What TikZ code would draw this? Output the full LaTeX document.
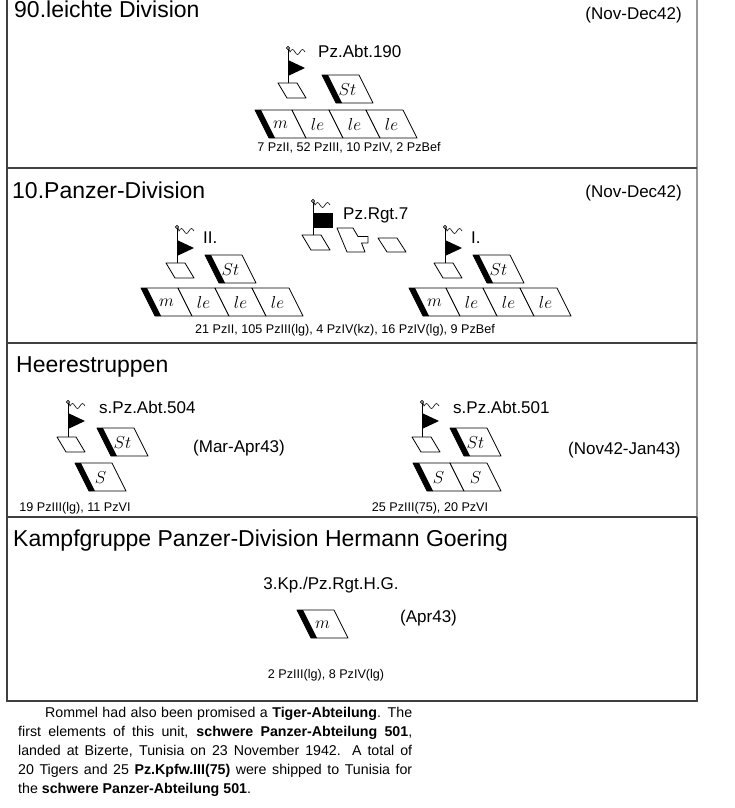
\documentclass[tikz,border=0pt]{standalone}
\usepackage{fontspec}
\setmainfont{Liberation Sans}
\newcount\symn
\tikzset{
  frame/.style={draw=black!75, line width=1.2pt},
  lightframe/.style={draw=black!40, line width=1.2pt},
  sym/.style={draw, line width=0.8pt, fill=white, line join=round},
  cl/.style={inner sep=0pt, font=\fontsize{16.5}{16.5}\selectfont},
  title/.style={anchor=base west, inner sep=0pt, font=\fontsize{23}{23}\selectfont},
  lbl/.style={inner sep=0pt, font=\fontsize{17}{17}\selectfont},
  strength/.style={inner sep=0pt, font=\fontsize{12.6}{13}\selectfont},
  para/.style={anchor=base west, inner sep=0pt, font=\fontsize{14.2}{17}\selectfont},
  pole/.style={line width=0.8pt},
}
% big parallelogram cell: x, y (top-left), label
\newcommand\bcell[3]{%
  \draw[sym] (#1,#2) -- (#1+37,#2) -- (#1+51,#2+28) -- (#1+14,#2+28) -- cycle;
  \global\advance\symn by 1
  \node[cl] (cell\the\symn) at (#1+25.5,#2+14.5) {$#3$};
}
% thick band on left edge of a cell
\newcommand\band[2]{\fill (#1,#2) -- (#1+6,#2) -- (#1+20,#2+28) -- (#1+14,#2+28) -- cycle;}
% small HQ parallelogram
\newcommand\hq[2]{\draw[sym] (#1,#2) -- (#1+19,#2) -- (#1+28,#2+15) -- (#1+9,#2+15) -- cycle;}
% wavy line at top of pole
\newcommand\wave[2]{\draw[line width=0.6pt] (#1+1,#2+1) -- (#1+2,#2+4) sin (#1+4.5,#2+1.5) cos (#1+7,#2+4) sin (#1+9.5,#2+6.5) cos (#1+12,#2+4) sin (#1+14.5,#2+1.5) cos (#1+17,#2+4);}
% pennant flag: x, top, triangle top, bottom
\newcommand\pennant[4]{%
  \draw[pole] (#1,#2) -- (#1,#4);
  \fill (#1,#3) -- (#1+17,#3+8) -- (#1,#3+16) -- cycle;
  \draw[line width=0.6pt, fill=white] (#1,#2) circle (1.6);
  \wave{#1}{#2}
}
\begin{document}
\begin{tikzpicture}[x=1pt,y=-1pt]
\useasboundingbox (0,0) rectangle (734,808);
\fill[white] (0,0) rectangle (734,808);

% frames
\draw[frame] (7,0) -- (7,701) -- (697,701) -- (697,517);
\draw[lightframe] (697,517) -- (697,0);
\draw[frame] (7,168) -- (697,168);
\draw[frame] (7,343) -- (697,343);
\draw[frame] (7,517) -- (697,517);

% ---------- 90. leichte Division
\node[title] (t1) at (14,18) {90.leichte Division};
\node[lbl, anchor=east] (d1) at (682,15) {(Nov-Dec42)};
\node[lbl, anchor=west] (u1) at (318,51) {Pz.Abt.190};
\pennant{288}{48}{60}{83}
\hq{278}{83}
\bcell{322}{75}{St}\band{322}{75}
\bcell{255}{110}{m}\band{255}{110}
\bcell{292}{110}{le}
\bcell{329}{110}{le}
\bcell{366}{110}{le}
\node[strength] (s1) at (349,148) {7 PzII, 52 PzIII, 10 PzIV, 2 PzBef};

% ---------- 10. Panzer-Division
\node[title] (t2) at (12,198) {10.Panzer-Division};
\node[lbl, anchor=east] (d2) at (682,193) {(Nov-Dec42)};
% Pz.Rgt.7
\draw[pole] (313,201) -- (313,235);
\fill (313,213) rectangle (333,228);
\draw[line width=0.6pt, fill=white] (313,201) circle (1.6);
\wave{313}{201}
\node[lbl, anchor=west] (u2) at (343,215) {Pz.Rgt.7};
\hq{302}{235}
\draw[sym] (337,228) -- (353,228) -- (358,236.5) -- (368,236.5) -- (368,243) -- (361.5,243) -- (365,252) -- (347,252) -- cycle;
\draw[sym] (378,238) -- (397,238) -- (406,252) -- (387,252) -- cycle;
% II.
\pennant{177}{227}{240}{263}
\node[lbl, anchor=west] (u3) at (203,238) {II.};
\hq{166}{263}
\bcell{205}{255}{St}\band{205}{255}
\bcell{141}{288}{m}\band{141}{288}
\bcell{178}{288}{le}
\bcell{215}{288}{le}
\bcell{252}{288}{le}
% I.
\pennant{445}{227}{240}{263}
\node[lbl, anchor=west] (u4) at (471,238) {I.};
\hq{434}{263}
\bcell{473}{255}{St}\band{473}{255}
\bcell{409}{288}{m}\band{409}{288}
\bcell{446}{288}{le}
\bcell{483}{288}{le}
\bcell{520}{288}{le}
\node[strength] (s2) at (345,330) {21 PzII, 105 PzIII(lg), 4 PzIV(kz), 16 PzIV(lg), 9 PzBef};

% ---------- Heerestruppen
\node[title] (t3) at (16,372) {Heerestruppen};
% s.Pz.Abt.504
\pennant{68}{402}{413}{437}
\node[lbl, anchor=west] (u5) at (99,407) {s.Pz.Abt.504};
\hq{57}{437}
\bcell{97}{428}{St}\band{97}{428}
\bcell{75}{463}{S}\band{75}{463}
\node[lbl, anchor=west] (d3) at (193,448) {(Mar-Apr43)};
\node[strength] (s3) at (75,508) {19 PzIII(lg), 11 PzVI};
% s.Pz.Abt.501
\pennant{422}{402}{413}{437}
\node[lbl, anchor=west] (u6) at (453,407) {s.Pz.Abt.501};
\hq{412}{437}
\bcell{450}{428}{St}\band{450}{428}
\bcell{413}{463}{S}\band{413}{463}
\bcell{450}{463}{S}
\node[lbl, anchor=west] (d4) at (568,450) {(Nov42-Jan43)};
\node[strength] (s4) at (430,508) {25 PzIII(75), 20 PzVI};

% ---------- Kampfgruppe HG
\node[title] (t4) at (13,546) {Kampfgruppe Panzer-Division Hermann Goering};
\node[lbl] (u7) at (331,585) {3.Kp./Pz.Rgt.H.G.};
\bcell{297}{610}{m}\band{297}{610}
\node[lbl, anchor=west] (d5) at (400,618) {(Apr43)};
\node[strength] (s5) at (326,675) {2 PzIII(lg), 8 PzIV(lg)};

% ---------- paragraph
\node[para] (p1) at (45,717) {\makebox[367pt][s]{Rommel had also been promised a \textbf{Tiger-Abteilung}. The}};
\node[para] (p2) at (18,736) {\makebox[394pt][s]{first elements of this unit, \textbf{schwere Panzer-Abteilung 501},}};
\node[para] (p3) at (18,755) {\makebox[394pt][s]{landed at Bizerte, Tunisia on 23 November 1942. A total of}};
\node[para] (p4) at (18,774) {\makebox[394pt][s]{20 Tigers and 25 \textbf{Pz.Kpfw.III(75)} were shipped to Tunisia for}};
\node[para] (p5) at (18,793) {the \textbf{schwere Panzer-Abteilung 501}.};
\end{tikzpicture}
\end{document}
